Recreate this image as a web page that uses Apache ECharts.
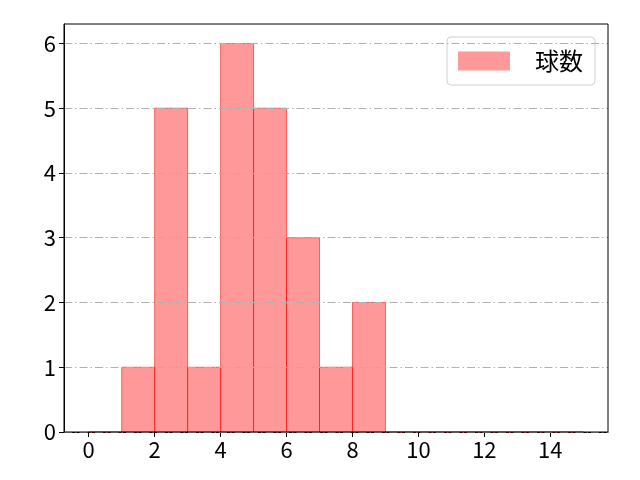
<html>
<head>
    <meta charset="utf-8">
    <script src="https://cdn.jsdelivr.net/npm/echarts@6/dist/echarts.min.js"></script>
    <style>
        html, body, #main {
            width: 100%;
            height: 100%;
            margin: 0;
            background: #fff;
        }
    </style>
</head>
<body>
<div id="main"></div>
<script>
    // bin edges and counts
    var binStarts = [0, 1, 2, 3, 4, 5, 6, 7, 8, 9, 10, 11, 12, 13, 14];
    var binEnds = [1, 2, 3, 4, 5, 6, 7, 8, 9, 10, 11, 12, 13, 14, 15];
    var counts = [0, 1, 5, 1, 6, 5, 3, 1, 2, 0, 0, 0, 0, 0, 0];
    var xTicks = [0, 2, 4, 6, 8, 10, 12, 14];
    var yTicks = [0, 1, 2, 3, 4, 5, 6];
    var seriesName = '球数';

    var font = '"Noto Sans CJK JP", "DejaVu Sans", sans-serif';

    var histData = [];
    for (var i = 0; i < counts.length; i++) {
        histData.push([binStarts[i], binEnds[i], counts[i]]);
    }

    var chart = echarts.init(document.getElementById('main'));

    var option = {
        animation: false,
        grid: {
            left: 64, right: 32, top: 24, bottom: 48,
            show: true,
            borderColor: '#000',
            borderWidth: 1,
            z: 10
        },
        legend: {
            data: [{name: seriesName, icon: 'rect'}],
            right: 45,
            top: 37,
            orient: 'vertical',
            itemWidth: 52,
            itemHeight: 19,
            padding: [12, 12, 12, 11],
            backgroundColor: 'rgba(255,255,255,0.8)',
            borderColor: '#d0d0d0',
            borderWidth: 1,
            borderRadius: 4,
            textStyle: {
                fontFamily: font,
                fontSize: 24,
                color: '#000',
                padding: [0, 0, 0, 20]
            }
        },
        xAxis: {
            type: 'value',
            min: -0.75,
            max: 15.75,
            axisLine: {onZero: false, lineStyle: {color: '#000'}},
            axisTick: {show: true, length: 5, customValues: xTicks, lineStyle: {color: '#000'}},
            axisLabel: {
                customValues: xTicks,
                fontFamily: font,
                fontSize: 22,
                color: '#000',
                margin: 7
            },
            splitLine: {show: false}
        },
        yAxis: {
            type: 'value',
            min: 0,
            max: 6.3,
            interval: 1,
            z: 5,
            axisLine: {show: true, onZero: false, lineStyle: {color: '#000'}},
            axisTick: {show: true, length: 5, customValues: yTicks, lineStyle: {color: '#000'}},
            axisLabel: {
                customValues: yTicks,
                fontFamily: font,
                fontSize: 22,
                color: '#000',
                margin: 8
            },
            splitLine: {
                show: true,
                lineStyle: {color: '#b0b0b0', width: 1, type: [8, 3, 1.5, 3]}
            }
        },
        series: [{
            name: seriesName,
            type: 'custom',
            z: 2,
            itemStyle: {color: 'rgba(255,0,0,0.4)'},
            renderItem: function (params, api) {
                var p0 = api.coord([api.value(0), 0]);
                var p1 = api.coord([api.value(1), api.value(2)]);
                return {
                    type: 'rect',
                    shape: {
                        x: p0[0],
                        y: p1[1],
                        width: p1[0] - p0[0],
                        height: p0[1] - p1[1]
                    },
                    style: {
                        fill: 'rgba(255,0,0,0.4)',
                        stroke: 'rgba(255,0,0,0.55)',
                        lineWidth: 1
                    }
                };
            },
            encode: {x: [0, 1], y: 2},
            data: histData
        }]
    };

    chart.setOption(option);
</script>
</body>
</html>
